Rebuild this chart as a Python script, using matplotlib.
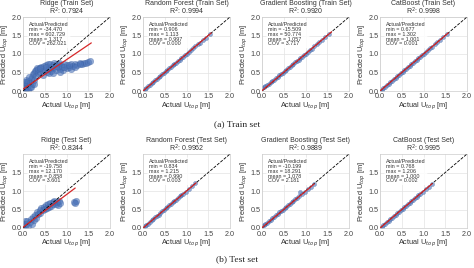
import matplotlib
matplotlib.use("Agg")
import matplotlib.pyplot as plt
import seaborn as sns

sns.set_theme(style="whitegrid")
plt.rcParams['font.family'] = ['Liberation Sans', 'DejaVu Sans']

# ---------------- data ----------------
train_titles = ["Ridge (Train Set)", "Random Forest (Train Set)",
                "Gradient Boosting (Train Set)", "CatBoost (Train Set)"]
test_titles = ["Ridge (Test Set)", "Random Forest (Test Set)",
               "Gradient Boosting (Test Set)", "CatBoost (Test Set)"]
train_r2 = [0.7924, 0.9994, 0.9920, 0.9998]
test_r2 = [0.8244, 0.9962, 0.9889, 0.9995]
train_stats = [(-34.470, 602.729, 1.317, 262.021),
               (0.906, 1.113, 0.997, 0.000),
               (-15.509, 50.774, 1.057, 3.717),
               (0.677, 1.302, 1.001, 0.001)]
test_stats = [(-19.758, 12.170, 0.858, 3.601),
              (0.834, 1.215, 0.990, 0.003),
              (-10.199, 18.291, 1.078, 2.181),
              (0.768, 1.206, 1.000, 0.002)]

ridge_train_actual = [0.00, 0.02, 0.03, 0.05, 0.06, 0.08, 0.10, 0.10, 0.12, 0.15, 0.15, 0.18,
                      0.20, 0.20, 0.22, 0.25, 0.25, 0.28, 0.30, 0.30, 0.33, 0.35, 0.38, 0.40,
                      0.42, 0.45, 0.48, 0.50, 0.52, 0.55, 0.58, 0.60, 0.62, 0.65, 0.68, 0.70,
                      0.72, 0.75, 0.78, 0.80, 0.82, 0.85, 0.88, 0.90, 0.92, 0.95, 1.00, 1.00,
                      1.05, 1.10, 1.15, 1.20, 1.25, 1.30, 1.35, 1.40, 1.45, 1.50, 1.55,
                      0.05, 0.12, 0.18, 0.25, 0.45, 0.60, 0.70, 0.85, 1.10,
                      0.02, 0.08, 0.14, 0.35, 0.40, 0.52, 0.65, 0.75, 0.95, 1.05, 1.20, 1.32]
ridge_train_pred = [0.02, 0.10, 0.20, 0.05, 0.15, 0.25, 0.08, 0.18, 0.28, 0.12, 0.22, 0.32,
                    0.18, 0.38, 0.45, 0.30, 0.50, 0.55, 0.40, 0.58, 0.62, 0.48, 0.63, 0.52,
                    0.66, 0.55, 0.68, 0.58, 0.70, 0.52, 0.72, 0.60, 0.74, 0.55, 0.70, 0.62,
                    0.76, 0.58, 0.72, 0.65, 0.76, 0.60, 0.70, 0.66, 0.56, 0.72, 0.62, 0.70,
                    0.66, 0.72, 0.68, 0.74, 0.70, 0.76, 0.73, 0.77, 0.75, 0.78, 0.80,
                    0.00, 0.03, 0.10, 0.20, 0.42, 0.48, 0.50, 0.52, 0.60,
                    0.25, 0.30, 0.38, 0.60, 0.62, 0.64, 0.66, 0.68, 0.64, 0.70, 0.66, 0.72]
ridge_test_actual = [0.00, 0.02, 0.04, 0.05, 0.08, 0.10, 0.12, 0.15, 0.18, 0.20, 0.22, 0.25,
                     0.28, 0.30, 0.32, 0.35, 0.38, 0.40, 0.42, 0.45, 0.48, 0.50, 0.52, 0.55,
                     0.58, 0.60, 0.62, 0.65, 0.68, 0.70, 0.72, 0.75, 0.78, 0.80, 0.82, 0.85,
                     1.18, 1.22, 1.20]
ridge_test_pred = [0.02, 0.12, 0.05, 0.18, 0.10, 0.20, 0.05, 0.15, 0.25, 0.12, 0.30, 0.22,
                   0.35, 0.28, 0.42, 0.38, 0.48, 0.40, 0.55, 0.48, 0.58, 0.52, 0.62, 0.55,
                   0.64, 0.58, 0.68, 0.60, 0.70, 0.64, 0.72, 0.66, 0.70, 0.62, 0.72, 0.68,
                   0.70, 0.74, 0.68]

diag_train_actual = [0.00, 0.04, 0.08, 0.12, 0.16, 0.20, 0.24, 0.28, 0.32, 0.36, 0.40, 0.44,
                     0.48, 0.52, 0.56, 0.60, 0.64, 0.68, 0.72, 0.76, 0.80, 0.84, 0.88, 0.92,
                     0.96, 1.00, 1.05, 1.10, 1.15, 1.20, 1.26, 1.32, 1.38, 1.45, 1.55]
rf_train_pred = [0.01, 0.05, 0.08, 0.13, 0.16, 0.21, 0.24, 0.29, 0.32, 0.37, 0.40, 0.45,
                 0.48, 0.53, 0.56, 0.61, 0.66, 0.69, 0.72, 0.77, 0.80, 0.85, 0.88, 0.93,
                 0.96, 1.01, 1.05, 1.11, 1.15, 1.21, 1.27, 1.31, 1.38, 1.44, 1.54]
gb_train_pred = [0.08, 0.10, 0.14, 0.16, 0.20, 0.24, 0.27, 0.30, 0.34, 0.38, 0.42, 0.46,
                 0.50, 0.55, 0.58, 0.62, 0.66, 0.70, 0.73, 0.78, 0.81, 0.85, 0.89, 0.92,
                 0.97, 1.01, 1.06, 1.10, 1.14, 1.21, 1.27, 1.32, 1.37, 1.45, 1.55]
cat_train_pred = [0.00, 0.04, 0.08, 0.12, 0.16, 0.20, 0.24, 0.28, 0.32, 0.36, 0.40, 0.44,
                  0.48, 0.52, 0.56, 0.60, 0.64, 0.68, 0.72, 0.76, 0.80, 0.84, 0.88, 0.92,
                  0.96, 1.00, 1.05, 1.10, 1.15, 1.20, 1.26, 1.32, 1.38, 1.45, 1.55]

diag_test_actual = [0.00, 0.04, 0.08, 0.12, 0.16, 0.20, 0.24, 0.28, 0.32, 0.36, 0.40, 0.44,
                    0.48, 0.52, 0.56, 0.60, 0.64, 0.68, 0.72, 0.76, 0.80, 0.84, 0.88, 0.92,
                    0.98, 1.05, 1.12, 1.20]
rf_test_pred = [0.01, 0.05, 0.09, 0.12, 0.17, 0.21, 0.24, 0.29, 0.33, 0.36, 0.41, 0.45,
                0.49, 0.53, 0.56, 0.61, 0.64, 0.70, 0.73, 0.77, 0.81, 0.86, 0.90, 0.93,
                0.97, 1.05, 1.13, 1.22]
gb_test_pred = [0.06, 0.09, 0.11, 0.14, 0.18, 0.22, 0.26, 0.30, 0.34, 0.37, 0.42, 0.46,
                0.49, 0.54, 0.57, 0.62, 0.66, 0.70, 0.73, 0.78, 0.82, 0.86, 0.97, 0.92,
                0.98, 1.05, 1.12, 1.18]
cat_test_pred = [0.00, 0.04, 0.08, 0.12, 0.16, 0.20, 0.24, 0.28, 0.32, 0.36, 0.40, 0.44,
                 0.48, 0.52, 0.56, 0.60, 0.64, 0.68, 0.72, 0.76, 0.80, 0.84, 0.88, 0.92,
                 0.98, 1.05, 1.12, 1.20]

# red regression lines: (x_start, y_start, x_end, y_end)
train_fit = [(0.0, 0.05, 1.57, 1.30), (0.0, 0.0, 1.57, 1.57),
             (0.0, 0.01, 1.60, 1.60), (0.0, 0.0, 1.57, 1.57)]
test_fit = [(0.0, 0.02, 1.20, 1.08), (0.0, 0.0, 1.22, 1.22),
            (0.0, 0.01, 1.20, 1.19), (0.0, 0.0, 1.20, 1.20)]

train_x = [ridge_train_actual, diag_train_actual, diag_train_actual, diag_train_actual]
train_y = [ridge_train_pred, rf_train_pred, gb_train_pred, cat_train_pred]
test_x = [ridge_test_actual, diag_test_actual, diag_test_actual, diag_test_actual]
test_y = [ridge_test_pred, rf_test_pred, gb_test_pred, cat_test_pred]

ticks = [0.0, 0.5, 1.0, 1.5, 2.0]
ticks_test_y = [0.0, 0.5, 1.0, 1.5]

# ---------------- figure ----------------
W, H = 474, 268
fig = plt.figure(figsize=(W / 100, H / 100), dpi=100)

lefts = [23, 143, 262, 380]
width = 87
rows = [(17, 91), (154, 228)]

txtc = '#333333'


def draw(ax, title, r2, stats, xs, ys, fit, yt, big):
    ax.set_facecolor('white')
    ax.scatter(xs, ys, s=(22 if big else 9), color='#4a72b8', alpha=0.6,
               linewidths=0.3, edgecolors='#3b5fa0', zorder=2)
    ax.plot([0, 2], [0, 2], ls='--', color='black', lw=0.6, zorder=3)
    ax.plot([fit[0], fit[2]], [fit[1], fit[3]], color='#d62728', lw=0.9, zorder=4)
    ax.set_xlim(0, 2)
    ax.set_ylim(0, 2)
    ax.set_xticks(ticks)
    ax.set_yticks(yt)
    ax.set_xticklabels([f"{t:.1f}" for t in ticks])
    ax.set_yticklabels([f"{t:.1f}" for t in yt])
    ax.tick_params(axis='y', labelsize=5.2, pad=1, length=0, colors='#444444')
    ax.tick_params(axis='x', labelsize=5.2, pad=1.8, length=0, colors='#444444')
    ax.grid(True, color='#e3e3e3', lw=0.5)
    for sp in ax.spines.values():
        sp.set_color('#cccccc')
        sp.set_linewidth(0.5)
    ax.set_title(f"{title}\nR$^2$: {r2:.4f}", fontsize=5.0, color=txtc, pad=1.5,
                 linespacing=0.9)
    ax.set_xlabel("Actual U$_{top}$ [m]", fontsize=5.3, color=txtc, labelpad=0.3)
    ax.set_ylabel("Predicted U$_{top}$ [m]", fontsize=5.3, color=txtc, labelpad=0.5)
    mn, mx, me, cv = stats
    ax.text(0.07, 0.93,
            f"Actual/Predicted\nmin = {mn:.3f}\nmax = {mx:.3f}\nmean = {me:.3f}\nCOV = {cv:.3f}",
            transform=ax.transAxes, fontsize=3.9, color=txtc, va='top', ha='left',
            linespacing=0.95,
            bbox=dict(boxstyle='round,pad=0.3', facecolor='white', edgecolor='none',
                      alpha=0.85), zorder=5)


for r, (top, bot) in enumerate(rows):
    for i in range(4):
        ax = fig.add_axes([lefts[i] / W, 1 - bot / H, width / W, (bot - top) / H])
        if r == 0:
            draw(ax, train_titles[i], train_r2[i], train_stats[i], train_x[i],
                 train_y[i], train_fit[i], ticks, i == 0)
        else:
            draw(ax, test_titles[i], test_r2[i], test_stats[i], test_x[i],
                 test_y[i], test_fit[i], ticks_test_y, i == 0)

fig.text(0.5, 1 - 124 / H, "(a) Train set", ha='center', va='center',
         family='Liberation Serif', fontsize=6.8, color='#222222')
fig.text(0.5, 1 - 259 / H, "(b) Test set", ha='center', va='center',
         family='Liberation Serif', fontsize=6.8, color='#222222')

fig.savefig("out.png", dpi=100, facecolor='white')
